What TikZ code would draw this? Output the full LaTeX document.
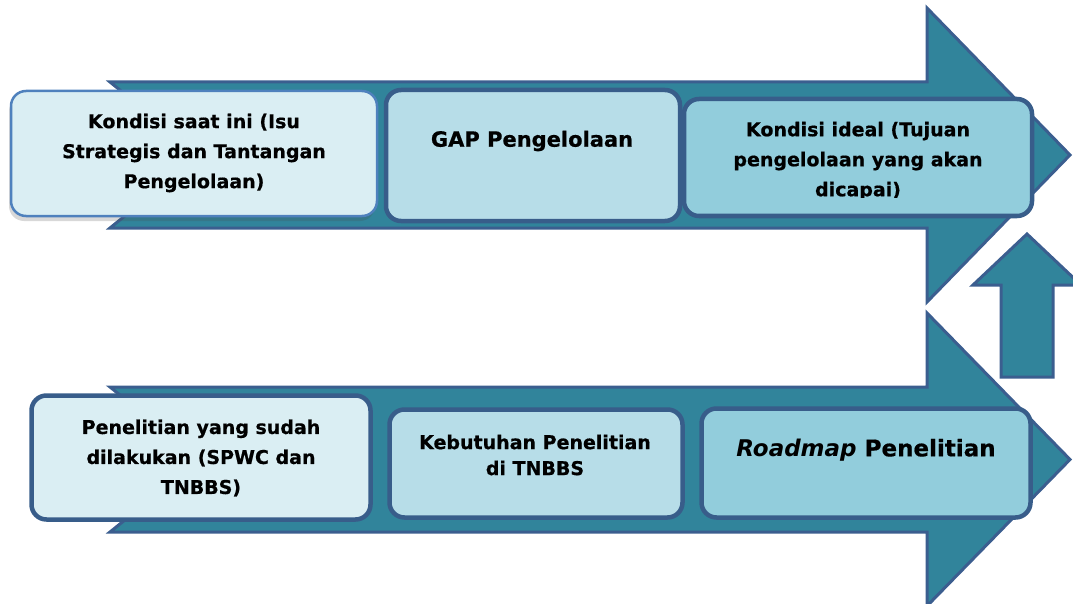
\documentclass[tikz,border=0pt]{standalone}
\usepackage{fontspec}
\setmainfont[BoldFeatures={FakeBold=0.6}]{DejaVu Sans}
\usetikzlibrary{shadows}
\definecolor{arrowfill}{HTML}{31849B}
\definecolor{arrowline}{HTML}{3B5E8F}
\definecolor{boxline}{HTML}{385D8A}
\definecolor{boxlineA}{HTML}{4F81BD}
\definecolor{fillA}{HTML}{DAEEF3}
\definecolor{fillB}{HTML}{B7DDE8}
\definecolor{fillC}{HTML}{92CDDC}
\tikzset{
  bigarrow/.style={fill=arrowfill, draw=arrowline, line width=3pt, line join=miter},
  panel/.style={rectangle, rounded corners=15pt, draw=boxline, line width=4.5pt, inner sep=0pt},
  paneltext/.style={align=center, font=\bfseries\fontsize{19pt}{30pt}\selectfont, inner sep=0pt}
}
\begin{document}
\begin{tikzpicture}[x=1pt,y=-1pt]
\clip (0,0) rectangle (1073,604);
\useasboundingbox (0,0) rectangle (1073,604);
% top arrow
\draw[bigarrow] (110,82) -- (927,82) -- (927,8) -- (1070,155) -- (927,302) -- (927,228) -- (110,228) -- (200,155) -- cycle;
% bottom arrow
\draw[bigarrow] (110,387) -- (927,387) -- (927,313) -- (1070,459.5) -- (927,606) -- (927,532) -- (110,532) -- (200,459.5) -- cycle;
% up arrow
\draw[bigarrow] (1001,377) -- (1001,285) -- (973,285) -- (1027,234) -- (1081,285) -- (1053,285) -- (1053,377) -- cycle;
% top boxes
\node[panel, draw=boxlineA, line width=2.5pt, fill=fillA, minimum width=366pt, minimum height=125pt,
      drop shadow={shadow xshift=-2pt, shadow yshift=-5pt, opacity=0.22, fill=black!70}] (b1) at (194,153.5) {};
\node[paneltext] (t1) at (194,153) {Kondisi saat ini (Isu\\Strategis dan Tantangan\\Pengelolaan)};
\node[panel, fill=fillB, minimum width=294pt, minimum height=131pt] (b2) at (533,155.5) {};
\node[paneltext, font=\bfseries\fontsize{21pt}{30pt}\selectfont] (t2) at (532,141) {GAP Pengelolaan};
\node[panel, fill=fillC, minimum width=348pt, minimum height=117pt] (b3) at (858,157.5) {};
\begin{scope}
\clip (684,99) rectangle (1032,198);
\node[paneltext] (t3) at (858,161) {Kondisi ideal (Tujuan\\pengelolaan yang akan\\dicapai)};
\end{scope}
% bottom boxes
\node[panel, fill=fillA, minimum width=339pt, minimum height=124pt] (b4) at (201,457.5) {};
\node[paneltext] (t4) at (201,458) {Penelitian yang sudah\\dilakukan (SPWC dan\\TNBBS)};
\node[panel, fill=fillB, minimum width=293pt, minimum height=108pt] (b5) at (536,463.5) {};
\node[paneltext, font=\bfseries\fontsize{19pt}{26pt}\selectfont] (t5) at (535,455) {Kebutuhan Penelitian\\di TNBBS};
\node[panel, fill=fillC, minimum width=329pt, minimum height=109pt] (b6) at (866,463) {};
\node[paneltext, font=\bfseries\fontsize{23pt}{30pt}\selectfont] (t6) at (866,450) {\textit{Roadmap} Penelitian};
\end{tikzpicture}
\end{document}
